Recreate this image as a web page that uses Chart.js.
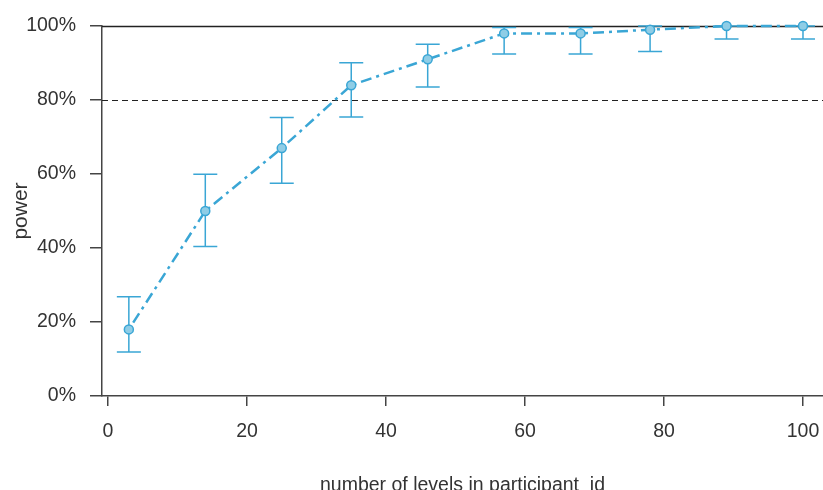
<!DOCTYPE html>
<html>
<head>
<meta charset="utf-8">
<script src="https://cdn.jsdelivr.net/npm/chart.js@4/dist/chart.umd.min.js"></script>
<style>
  html, body { margin: 0; padding: 0; background: #ffffff; }
  #wrap { width: 823px; height: 490px; }
</style>
</head>
<body>
<div id="wrap"><canvas id="c" width="823" height="490"></canvas></div>
<script>
// Number of levels in participant_id for each simulation run
const levels = [3, 14, 25, 35, 46, 57, 68, 78, 89, 100];
// Estimated power (%) at each level count
const power = [18, 50, 67, 84, 91, 98, 98, 99, 100, 100];
// Confidence interval bounds (%)
const ciLower = [11.9, 40.4, 57.5, 75.4, 83.5, 92.4, 92.4, 93.1, 96.5, 96.5];
const ciUpper = [26.8, 59.9, 75.3, 90.1, 95.1, 99.6, 99.6, 100, 100, 100];
// Axis tick values
const xTicks = [0, 20, 40, 60, 80, 100];
const yTicks = [0, 20, 40, 60, 80, 100];
// Target power and ceiling reference lines
const targetPower = 80;
const ceilingPower = 100;

const blue = '#3aa6d5';
const pointFill = '#8fcde6';
const axisColor = '#444444';
const textColor = '#333333';
const FONT = '"Liberation Sans", Arial, sans-serif';

// Horizontal reference lines at the target and ceiling
const refLines = {
  id: 'refLines',
  beforeDatasetsDraw(chart) {
    const { ctx, chartArea, scales } = chart;
    ctx.save();
    ctx.strokeStyle = '#222222';
    ctx.lineWidth = 1;
    // dashed target line
    let y = Math.round(scales.y.getPixelForValue(targetPower)) + 0.5;
    ctx.setLineDash([6, 4]);
    ctx.beginPath();
    ctx.moveTo(chartArea.left, y);
    ctx.lineTo(chartArea.right, y);
    ctx.stroke();
    // solid ceiling line
    y = Math.round(scales.y.getPixelForValue(ceilingPower)) + 0.5;
    ctx.setLineDash([]);
    ctx.lineWidth = 1.5;
    ctx.beginPath();
    ctx.moveTo(chartArea.left, y);
    ctx.lineTo(chartArea.right, y);
    ctx.stroke();
    ctx.restore();
  }
};

// Vertical error bars with caps
const errorBars = {
  id: 'errorBars',
  beforeDatasetsDraw(chart) {
    const { ctx, scales } = chart;
    const cap = 12;
    ctx.save();
    ctx.strokeStyle = blue;
    ctx.lineWidth = 1.5;
    levels.forEach((lv, i) => {
      const x = scales.x.getPixelForValue(lv);
      const yLo = scales.y.getPixelForValue(ciLower[i]);
      const yHi = scales.y.getPixelForValue(ciUpper[i]);
      ctx.beginPath();
      ctx.moveTo(x, yLo);
      ctx.lineTo(x, yHi);
      ctx.moveTo(x - cap, yLo);
      ctx.lineTo(x + cap, yLo);
      ctx.moveTo(x - cap, yHi);
      ctx.lineTo(x + cap, yHi);
      ctx.stroke();
    });
    ctx.restore();
  }
};

new Chart(document.getElementById('c'), {
  type: 'line',
  data: {
    datasets: [{
      data: levels.map((lv, i) => ({ x: lv, y: power[i] })),
      borderColor: blue,
      borderWidth: 2.5,
      borderDash: [3, 5, 11, 5],
      backgroundColor: pointFill,
      pointBackgroundColor: pointFill,
      pointBorderColor: blue,
      pointBorderWidth: 1.5,
      pointRadius: 4.5,
      tension: 0,
      fill: false,
      clip: false
    }]
  },
  options: {
    responsive: false,
    animation: false,
    devicePixelRatio: 1,
    layout: { autoPadding: false, padding: { top: 26, right: 0, bottom: 0, left: 0 } },
    plugins: {
      legend: { display: false },
      tooltip: { enabled: false },
      title: { display: false }
    },
    scales: {
      x: {
        type: 'linear',
        min: -0.863,
        max: 102.88,
        afterFit(s) { s.height = 94; s.paddingLeft = 0; s.paddingRight = 0; },
        afterBuildTicks(s) { s.ticks = xTicks.map(v => ({ value: v })); },
        border: { display: true, color: axisColor, width: 1.5 },
        grid: { drawOnChartArea: false, drawTicks: true, tickLength: 10, color: axisColor, lineWidth: 1.5 },
        ticks: {
          color: textColor,
          font: { family: FONT, size: 19.5 },
          padding: 14,
          maxRotation: 0,
          autoSkip: false
        },
        title: {
          display: true,
          text: 'number of levels in participant_id',
          color: textColor,
          font: { family: FONT, size: 19.5, lineHeight: 1 },
          padding: { top: 0, bottom: -5 }
        }
      },
      y: {
        min: 0,
        max: 100,
        afterFit(s) { s.width = 102; s.paddingTop = 0; s.paddingBottom = 0; },
        afterBuildTicks(s) { s.ticks = yTicks.map(v => ({ value: v })); },
        border: { display: true, color: axisColor, width: 1.5 },
        grid: { drawOnChartArea: false, drawTicks: true, tickLength: 12, color: axisColor, lineWidth: 1.5 },
        ticks: {
          color: textColor,
          font: { family: FONT, size: 19.5 },
          padding: 14,
          callback: v => v + '%'
        },
        title: {
          display: true,
          text: 'power',
          color: textColor,
          font: { family: FONT, size: 21, lineHeight: 1 },
          padding: { top: 11, bottom: 0 }
        }
      }
    }
  },
  plugins: [refLines, errorBars]
});
</script>
</body>
</html>
